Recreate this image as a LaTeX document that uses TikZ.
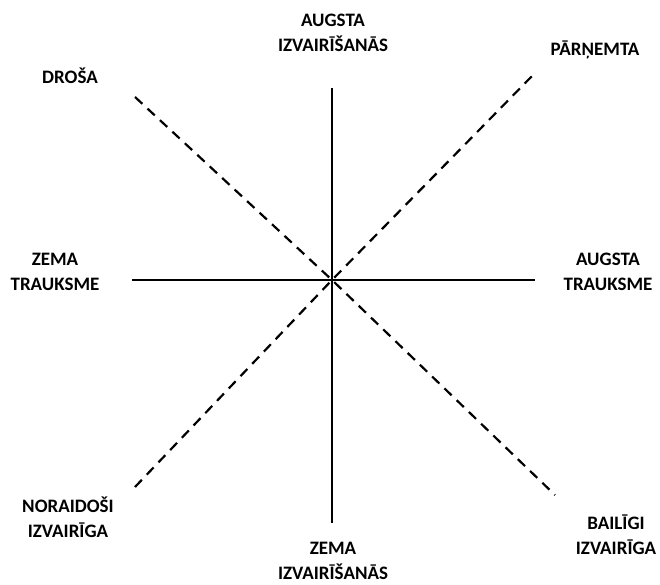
\documentclass[tikz,border=0pt]{standalone}
\usepackage{fontspec}
\setmainfont{Carlito}
\usetikzlibrary{positioning}

\begin{document}
\begin{tikzpicture}[
    x=1pt, y=-1pt,
    font=\bfseries\fontsize{19}{25}\selectfont,
    lbl/.style={align=center, inner sep=0pt},
    axis/.style={line width=1.6pt},
    diag/.style={line width=2.2pt, dash pattern=on 10pt off 7pt}
]
    \useasboundingbox (0,0) rectangle (660,585);

    % Axes
    \coordinate (c) at (332,280);
    \coordinate (top) at (332,88);
    \coordinate (bot) at (332,523);
    \coordinate (lft) at (132,280);
    \coordinate (rgt) at (535,280);
    \draw[axis] (top) -- (bot);
    \draw[axis] (lft) -- (rgt);

    % Diagonals
    \coordinate (nw) at (135,97);
    \coordinate (se) at (555,495);
    \coordinate (sw) at (135,487);
    \coordinate (ne) at (535,73);
    \draw[diag] (nw) -- (c) -- (se);
    \draw[diag] (sw) -- (c) -- (ne);

    % Labels
    \node[lbl] (hiavoid) at (333,33) {AUGSTA\\IZVAIRĪŠANĀS};
    \node[lbl] (loavoid) at (333,561) {ZEMA\\IZVAIRĪŠANĀS};
    \node[lbl] (loanx) at (55,272) {ZEMA\\TRAUKSME};
    \node[lbl] (hianx) at (608,272) {AUGSTA\\TRAUKSME};
    \node[lbl] (secure) at (70,76) {DROŠA};
    \node[lbl] (preocc) at (595,50) {PĀRŅEMTA};
    \node[lbl] (dismiss) at (68,517) {NORAIDOŠI\\IZVAIRĪGA};
    \node[lbl] (fearful) at (616,535) {BAILĪGI\\IZVAIRĪGA};

\end{tikzpicture}
\end{document}
